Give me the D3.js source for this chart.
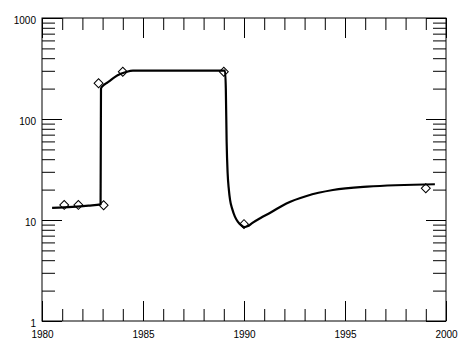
<!DOCTYPE html>
<html>
<head>
<meta charset="utf-8">
<script src="https://cdn.jsdelivr.net/npm/d3@7"></script>
<style>
	body { margin: 0; background: #fff; }
	svg { display: block; }
	.tick text { font-family: "Liberation Sans", Helvetica, Arial, sans-serif; font-size: 10px; fill: #000; }
</style>
</head>
<body>
<div id="chart"></div>
<script>
// observed points (diamonds)
const obsYears = [1981.1, 1981.8, 1983.05, 1982.8, 1984.0, 1989.0, 1990.0, 1999.0];
const obsValues = [14.1, 14.1, 14.0, 226, 294, 294, 9.1, 20.6];

// fitted curve
const curveYears = [1980.5, 1981.5, 1982.3, 1982.9, 1982.92, 1983.1, 1983.3, 1983.6, 1983.9, 1984.2, 1984.5,
	1989.06, 1989.1, 1989.14, 1989.19, 1989.25, 1989.31, 1989.42, 1989.55, 1989.7, 1989.89, 1990.0, 1990.2, 1990.4,
	1990.8, 1991.3, 1992.1, 1993.1, 1994.4, 1996.1, 1999.45];
const curveValues = [13.2, 13.5, 13.9, 14.3, 201, 220, 234, 260, 280, 294, 301,
	301, 200, 60, 29, 20, 15.8, 12.8, 10.8, 9.6, 8.8, 8.5, 8.7, 9.3,
	10.4, 11.8, 14.6, 17.3, 19.8, 21.4, 22.6];

const xMajor = [1980, 1985, 1990, 1995, 2000];
const xMinor = d3.range(1981, 2000).filter(y => y % 5 !== 0);
const yMajor = [1, 10, 100, 1000];
const yMinor = [1, 10, 100].flatMap(d => d3.range(2, 10).map(m => m * d));

const width = 472, height = 359;
const margin = { top: 18, right: 26, bottom: 38, left: 42 };
const plotW = width - margin.left - margin.right;
const plotH = height - margin.top - margin.bottom;

const svg = d3.select("#chart").append("svg")
	.attr("width", width)
	.attr("height", height);

const g = svg.append("g")
	.attr("transform", "translate(" + margin.left + "," + margin.top + ")");

const x = d3.scaleLinear().domain([1980, 2000]).range([0, plotW]);
const y = d3.scaleLog().domain([1, 1000]).range([plotH, 0]);

function drawAxis(axis, tx, ty) {
	const a = g.append("g")
		.attr("transform", "translate(" + tx + "," + ty + ")")
		.call(axis);
	a.select(".domain").remove();
	a.selectAll(".tick line").attr("stroke", "#000").attr("stroke-width", 1);
	return a;
}

// x axes (bottom with labels, top without)
drawAxis(d3.axisBottom(x).tickValues(xMajor).tickSize(-20).tickPadding(10).tickFormat(d3.format("d")), 0, plotH)
	.selectAll("text").attr("dy", "0.71em");
drawAxis(d3.axisBottom(x).tickValues(xMinor).tickSize(-12).tickFormat(""), 0, plotH);
drawAxis(d3.axisTop(x).tickValues(xMajor).tickSize(-20).tickFormat(""), 0, 0);
drawAxis(d3.axisTop(x).tickValues(xMinor).tickSize(-12).tickFormat(""), 0, 0);

// y axes (left with labels, right without)
drawAxis(d3.axisLeft(y).tickValues(yMajor).tickSize(-20).tickPadding(6).tickFormat(d3.format("d")), 0, 0)
	.selectAll("text").attr("dy", "0.5em");
drawAxis(d3.axisLeft(y).tickValues(yMinor).tickSize(-13).tickFormat(""), 0, 0);
drawAxis(d3.axisRight(y).tickValues(yMajor).tickSize(-20).tickFormat(""), plotW, 0);
drawAxis(d3.axisRight(y).tickValues(yMinor).tickSize(-13).tickFormat(""), plotW, 0);

// frame
g.append("rect")
	.attr("width", plotW)
	.attr("height", plotH)
	.attr("fill", "none")
	.attr("stroke", "#000")
	.attr("stroke-width", 1);

// curve
const curve = curveYears.map((yr, i) => ({ x: yr, y: curveValues[i] }));
g.append("path")
	.datum(curve)
	.attr("d", d3.line().x(d => x(d.x)).y(d => y(d.y)).curve(d3.curveMonotoneX))
	.attr("fill", "none")
	.attr("stroke", "#000")
	.attr("stroke-width", 2.2)
	.attr("stroke-linejoin", "round");

// diamonds
const obs = obsYears.map((yr, i) => ({ x: yr, y: obsValues[i] }));
g.selectAll(".pt")
	.data(obs)
	.enter()
	.append("path")
	.attr("class", "pt")
	.attr("d", d3.symbol(d3.symbolSquare, 40))
	.attr("transform", d => "translate(" + x(d.x) + "," + y(d.y) + ") rotate(45)")
	.attr("fill", "none")
	.attr("stroke", "#000")
	.attr("stroke-width", 1);
</script>
</body>
</html>
